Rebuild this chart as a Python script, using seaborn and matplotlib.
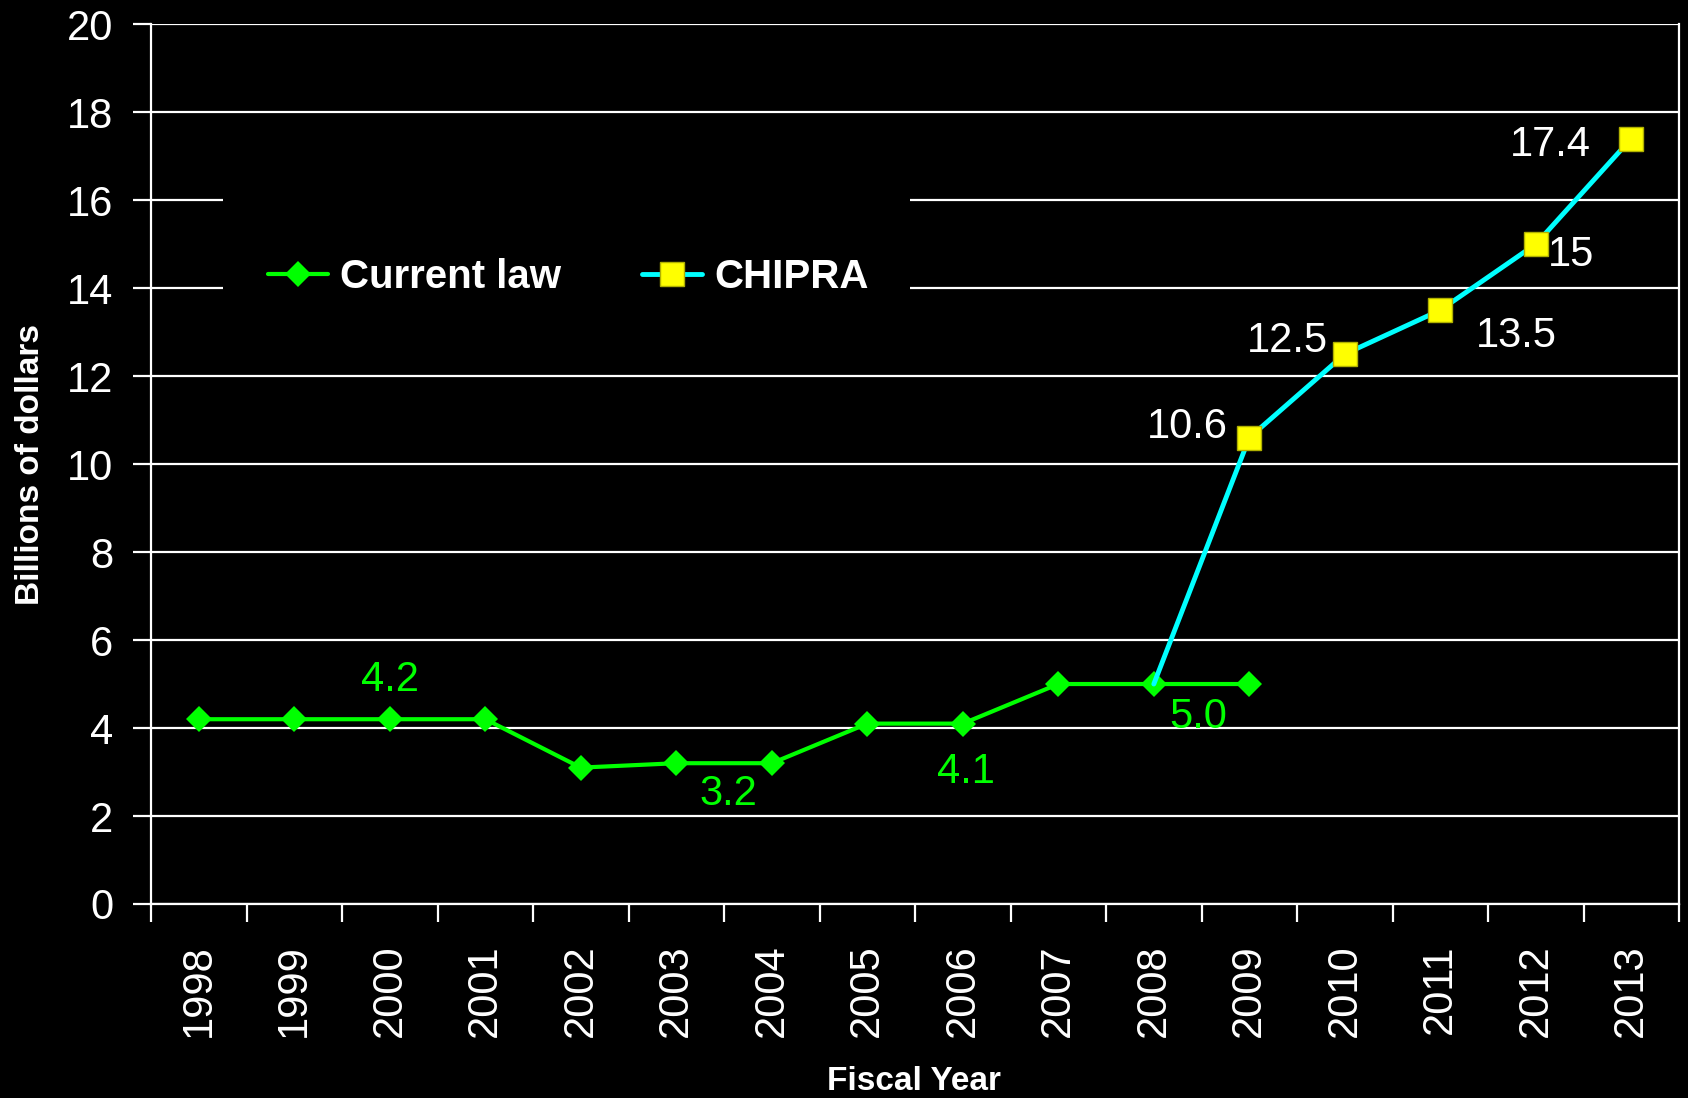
import numpy as np
import pandas as pd
import seaborn as sns
import matplotlib.pyplot as plt
from matplotlib.ticker import FixedLocator
from matplotlib.patches import Rectangle

# chart values
years = ['1998', '1999', '2000', '2001', '2002', '2003', '2004', '2005',
         '2006', '2007', '2008', '2009', '2010', '2011', '2012', '2013']
current_law = [4.2, 4.2, 4.2, 4.2, 3.1, 3.2, 3.2, 4.1, 4.1, 5.0, 5.0, 5.0]
chipra_years = ['2008', '2009', '2010', '2011', '2012', '2013']
chipra = [5.0, 10.6, 12.5, 13.5, 15.0, 17.4]
y_ticks = [0, 2, 4, 6, 8, 10, 12, 14, 16, 18, 20]

sns.set_style("dark")
plt.rcParams['font.family'] = ['Liberation Sans Narrow', 'Liberation Sans', 'DejaVu Sans']

x_idx = {y: i for i, y in enumerate(years)}
df_cur = pd.DataFrame({'x': [x_idx[y] for y in years[:len(current_law)]], 'val': current_law})
df_chip = pd.DataFrame({'x': [x_idx[y] for y in chipra_years], 'val': chipra})

fig = plt.figure(figsize=(16.88, 10.98), dpi=100, facecolor='black')
ax = fig.add_axes([0.0895, 0.1767, 0.9052, 0.8013])
ax.set_facecolor('black')

# gridlines
ax.grid(False)
for v in y_ticks:
    ax.axhline(v, color='white', lw=1.6, zorder=1)

# black box behind the legend hides the gridlines there
ax.add_patch(Rectangle((0.047, 0.68), 0.4495, 0.14, transform=ax.transAxes,
                       facecolor='black', edgecolor='none', zorder=2))

sns.lineplot(data=df_cur, x='x', y='val', ax=ax, color='#00FF00', lw=3,
             marker='D', markersize=13, markeredgewidth=0, label='Current law', zorder=3)
sns.lineplot(data=df_chip, x='x', y='val', ax=ax, color='#00FFFF', lw=3.5,
             marker='s', markersize=17, markerfacecolor='#FFFF00', markeredgecolor='#B0B000',
             markeredgewidth=1, markevery=list(range(1, len(chipra))), label='CHIPRA', zorder=4)

ax.set_xlim(-0.5, len(years) - 0.5)
ax.set_ylim(0, 20)
ax.set_yticks(y_ticks)
ax.set_xticks(range(len(years)))
ax.set_xticklabels(years, rotation=90)
ax.xaxis.set_minor_locator(FixedLocator(np.arange(-0.5, len(years), 1.0)))
ax.tick_params(axis='x', which='major', length=0, pad=29, labelsize=30, labelcolor='white')
ax.tick_params(axis='x', which='minor', length=13, width=1.6, color='white', direction='out', bottom=True)
ax.tick_params(axis='y', length=13, width=1.6, color='white', direction='out', pad=14,
               labelsize=30, labelcolor='white', left=True)

for side in ['left', 'right', 'bottom']:
    ax.spines[side].set_visible(True)
    ax.spines[side].set_color('white')
    ax.spines[side].set_linewidth(1.6)
ax.spines['top'].set_visible(False)

ax.set_xlabel('Fiscal Year', color='white', fontsize=24, fontweight='bold')
ax.set_ylabel('Billions of dollars', color='white', fontsize=24, fontweight='bold')
ax.xaxis.set_label_coords(0.499, -0.184)
ax.yaxis.set_label_coords(-0.069, 0.499)

# value labels
green_labels = [(2.0, 5.1, '4.2'), (5.55, 2.5, '3.2'), (8.03, 3.0, '4.1'), (10.46, 4.25, '5.0')]
for x, y, t in green_labels:
    ax.text(x, y, t, color='#00FF00', fontsize=30, ha='center', va='center', zorder=5)
white_labels = [(10.78, 10.85, '10.6', 'right'), (11.82, 12.8, '12.5', 'right'),
                (13.8, 12.9, '13.5', 'center'), (14.13, 14.75, '15', 'left'),
                (14.58, 17.25, '17.4', 'right')]
for x, y, t, ha in white_labels:
    ax.text(x, y, t, color='white', fontsize=30, ha=ha, va='center', zorder=5)

leg = ax.legend(loc='center', bbox_to_anchor=(0.273, 0.713), ncol=2, frameon=False,
                prop={'weight': 'bold', 'size': 29}, columnspacing=2.0, handlelength=1.5,
                handletextpad=0.3, borderaxespad=0)
for t in leg.get_texts():
    t.set_color('white')

fig.savefig('out.png', dpi=100, facecolor='black')
